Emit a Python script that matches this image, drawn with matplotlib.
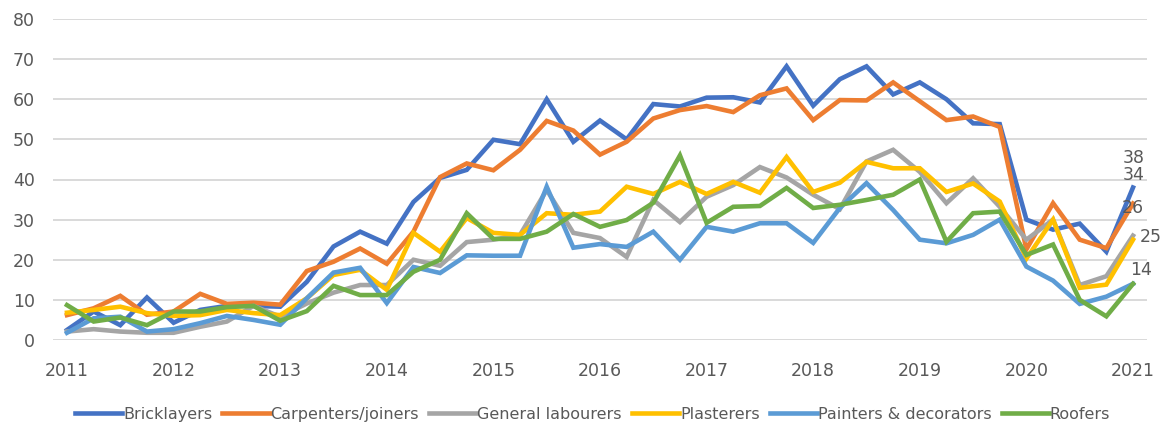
import matplotlib.pyplot as plt

# quarterly index, 2011 Q1 .. 2021 Q1
years = ['2011', '2012', '2013', '2014', '2015', '2016', '2017', '2018', '2019', '2020', '2021']

bricklayers = [2.5, 7.1, 3.7, 10.6, 4.3, 7.5, 8.5, 8.5, 8.3, 14.5, 23.3, 27, 24, 34.4, 40.4, 42.4,
               49.9, 48.8, 60, 49.4, 54.7, 50, 58.8, 58.2, 60.4, 60.5, 59.2, 68.2, 58.4, 65, 68.2,
               61.2, 64.2, 60, 54, 53.8, 30, 27.5, 29, 22, 38]
carpenters = [6.2, 7.9, 11, 6.3, 7.1, 11.5, 9, 9.3, 8.8, 17.2, 19.5, 22.8, 19, 27, 40.6, 44,
              42.3, 47.4, 54.6, 52.2, 46.2, 49.4, 55.2, 57.3, 58.3, 56.8, 61, 62.7, 54.8, 59.8, 59.7,
              64.2, 59.5, 54.8, 55.7, 53.1, 22.6, 34.1, 25, 22.9, 34]
labourers = [2.1, 2.7, 2.1, 1.8, 1.8, 3.3, 4.6, 8.5, 5.8, 9.1, 11.8, 13.7, 13.7, 20, 18.5, 24.4,
             25, 26.2, 37.4, 26.7, 25.4, 20.7, 34.9, 29.4, 35.7, 38.6, 43.1, 40.5, 36.2, 32.6, 44.5,
             47.4, 41.9, 34.1, 40.3, 33.2, 25, 30, 13.7, 15.9, 26]
plasterers = [6.8, 7.5, 8.3, 6.7, 6, 6.2, 7.5, 6.7, 6.2, 10.4, 16.2, 17.5, 12.5, 26.7, 22, 30.4,
              26.7, 26.2, 31.6, 31.2, 32, 38.2, 36.4, 39.4, 36.4, 39.4, 36.7, 45.6, 36.9, 39.2, 44.4,
              42.8, 42.8, 36.9, 39, 34.5, 20.3, 30, 13, 13.8, 25]
painters = [1.8, 5.4, 5.8, 2.1, 2.7, 4.2, 6, 5, 3.8, 10.4, 16.8, 18, 9.2, 18.2, 16.7, 21.1,
            21, 21, 38.2, 23, 23.9, 23.2, 27, 20, 28.2, 27, 29.1, 29.1, 24.2, 32.9, 39.1,
            32.4, 25, 24.1, 26.2, 30, 18.3, 14.8, 9, 10.8, 14]
roofers = [8.7, 4.6, 5.6, 3.7, 7.1, 7.1, 8.2, 8.5, 4.8, 7.2, 13.5, 11.2, 11.2, 17, 20, 31.6,
           25.2, 25.2, 27, 31.4, 28.2, 29.9, 34.2, 46, 29.2, 33.2, 33.4, 37.9, 32.9, 33.7, 34.9,
           36.2, 40, 24.5, 31.6, 32, 21.2, 23.8, 10, 5.9, 14]

series = [
    ('Bricklayers', bricklayers, '#4472C4'),
    ('Carpenters/joiners', carpenters, '#ED7D31'),
    ('General labourers', labourers, '#A5A5A5'),
    ('Plasterers', plasterers, '#FFC000'),
    ('Painters & decorators', painters, '#5B9BD5'),
    ('Roofers', roofers, '#70AD47'),
]

# end-of-line value labels (series index, offset in points)
end_labels = [(0, (0.7, 21)), (1, (0.7, 20.5)), (2, (0, 19.8)), (3, (12.5, 2)), (4, (5.8, 10))]

txt = '#595959'
fig = plt.figure(figsize=(11.62, 4.26), dpi=100)
ax = fig.add_axes([53 / 1162, 1 - 340 / 426, 1094 / 1162, 321 / 426])

x = list(range(len(bricklayers)))
for name, vals, col in series:
    ax.plot(x, vals, color=col, lw=3.3, label=name, solid_joinstyle='miter')

for i, off in end_labels:
    v = series[i][1][-1]
    ax.annotate(str(round(v)), xy=(x[-1], v), xytext=off, textcoords='offset points',
                ha='center', va='center', fontsize=12.5, color=txt, annotation_clip=False)

ax.set_xlim(-0.525, 40.525)
ax.set_ylim(0, 80)
ax.set_yticks(range(0, 81, 10))
ax.set_xticks(range(0, 41, 4))
ax.set_xticklabels(years)
ax.grid(axis='y', color='#d9d9d9', lw=1.4)
ax.set_axisbelow(True)
for s in ax.spines.values():
    s.set_visible(False)
ax.tick_params(axis='both', length=0, labelsize=12.5, labelcolor=txt)
ax.tick_params(axis='x', pad=16)
ax.tick_params(axis='y', pad=13)

leg = fig.legend(loc='center', bbox_to_anchor=(0.51, 0.028), ncol=6, frameon=False,
                 handlelength=2.95, handletextpad=0.05, columnspacing=0.65,
                 prop={'family': ['Liberation Sans Narrow', 'DejaVu Sans'], 'size': 11.5})
for t in leg.get_texts():
    t.set_color(txt)

fig.savefig('out.png', dpi=100)
